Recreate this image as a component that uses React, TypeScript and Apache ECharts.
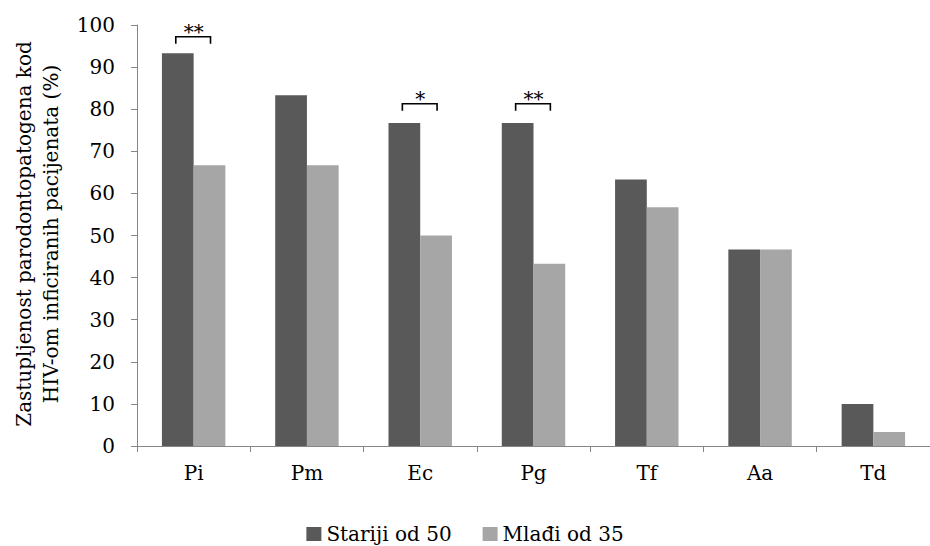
import React, { useEffect, useRef } from "react";
import * as echarts from "echarts";

// Bacterial species on the x axis
const categories = ["Pi", "Pm", "Ec", "Pg", "Tf", "Aa", "Td"];
// Prevalence (%) in each age group
const stariji = [93.3, 83.3, 76.7, 76.7, 63.3, 46.7, 10];
const mladji = [66.7, 66.7, 50, 43.3, 56.7, 46.7, 3.3];
// Significance markers and the level of their brackets (%)
const significance = ["**", "", "*", "**", "", "", ""];
const bracketLevels = [97.2, null, 81.3, 81.3, null, null, null];

const seriesNames = ["Stariji od 50", "Mlađi od 35"];
const yTicks = { min: 0, max: 100, interval: 10 };
const axisTitle = ["Zastupljenost parodontopatogena kod", "HIV-om inficiranih pacijenata (%)"];

const FONT = "'DejaVu Serif', 'Liberation Serif', serif";
const FS = 20;
const BAR_RATIO = 0.28;

export default function App() {
  const ref = useRef<HTMLDivElement>(null);

  useEffect(() => {
    if (!ref.current) return;
    const chart = echarts.init(ref.current, undefined, { renderer: "svg" });

    const bracketData = categories
      .map((c, i) => (significance[i] ? [c, bracketLevels[i], significance[i]] : null))
      .filter((d) => d !== null);

    chart.setOption({
      animation: false,
      backgroundColor: "#ffffff",
      textStyle: { fontFamily: FONT },
      grid: { left: 137, right: -7, top: 25, bottom: 100 },
      legend: {
        bottom: -3,
        left: "center",
        itemWidth: 15,
        itemHeight: 14,
        itemGap: 31,
        icon: "rect",
        textStyle: { fontFamily: FONT, fontSize: FS, color: "#000" },
        data: seriesNames,
      },
      xAxis: {
        type: "category",
        data: categories,
        axisLine: { lineStyle: { color: "#868686", width: 1 } },
        axisTick: { show: true, length: 6, lineStyle: { color: "#868686" } },
        axisLabel: { fontFamily: FONT, fontSize: FS, color: "#000", margin: 17 },
        splitLine: { show: false },
      },
      yAxis: {
        type: "value",
        min: yTicks.min,
        max: yTicks.max,
        interval: yTicks.interval,
        axisLine: { show: true, lineStyle: { color: "#868686", width: 1 } },
        axisTick: { show: true, length: 6, lineStyle: { color: "#868686" } },
        axisLabel: { fontFamily: FONT, fontSize: FS, color: "#000", margin: 22 },
        splitLine: { show: false },
      },
      graphic: [
        {
          type: "text",
          x: 37,
          y: 234,
          rotation: Math.PI / 2,
          style: {
            text: axisTitle.join("\n"),
            fontFamily: FONT,
            fontSize: FS,
            lineHeight: 27,
            fill: "#000",
            align: "center",
            verticalAlign: "middle",
          },
        },
      ],
      series: [
        {
          name: seriesNames[0],
          type: "bar",
          data: stariji,
          barWidth: `${BAR_RATIO * 100}%`,
          barGap: "0%",
          itemStyle: { color: "#595959" },
        },
        {
          name: seriesNames[1],
          type: "bar",
          data: mladji,
          barWidth: `${BAR_RATIO * 100}%`,
          itemStyle: { color: "#a6a6a6" },
        },
        {
          type: "custom",
          name: "significance",
          data: bracketData,
          silent: true,
          z: 5,
          renderItem: (params: any, api: any) => {
            const pt = api.coord([api.value(0), api.value(1)]);
            const band = api.size([1, 0])[0];
            const bw = band * BAR_RATIO;
            const left = pt[0] - bw / 2 - 2;
            const right = pt[0] + bw / 2 + 1;
            const y = pt[1];
            const label = bracketData[params.dataIndex][2];
            return {
              type: "group",
              children: [
                {
                  type: "polyline",
                  shape: {
                    points: [
                      [left, y + 7],
                      [left, y],
                      [right, y],
                      [right, y + 7],
                    ],
                  },
                  style: { stroke: "#000", lineWidth: 1.6, fill: "none" },
                },
                {
                  type: "text",
                  x: pt[0],
                  y: y - 5,
                  style: {
                    text: label,
                    fontFamily: FONT,
                    fontSize: FS,
                    fill: "#000",
                    align: "center",
                    verticalAlign: "middle",
                  },
                },
              ],
            };
          },
        },
      ],
    });

    return () => chart.dispose();
  }, []);

  return (
    <div
      ref={ref}
      style={{ position: "fixed", left: 0, top: 0, width: 930, height: 546, background: "#fff" }}
    />
  );
}
